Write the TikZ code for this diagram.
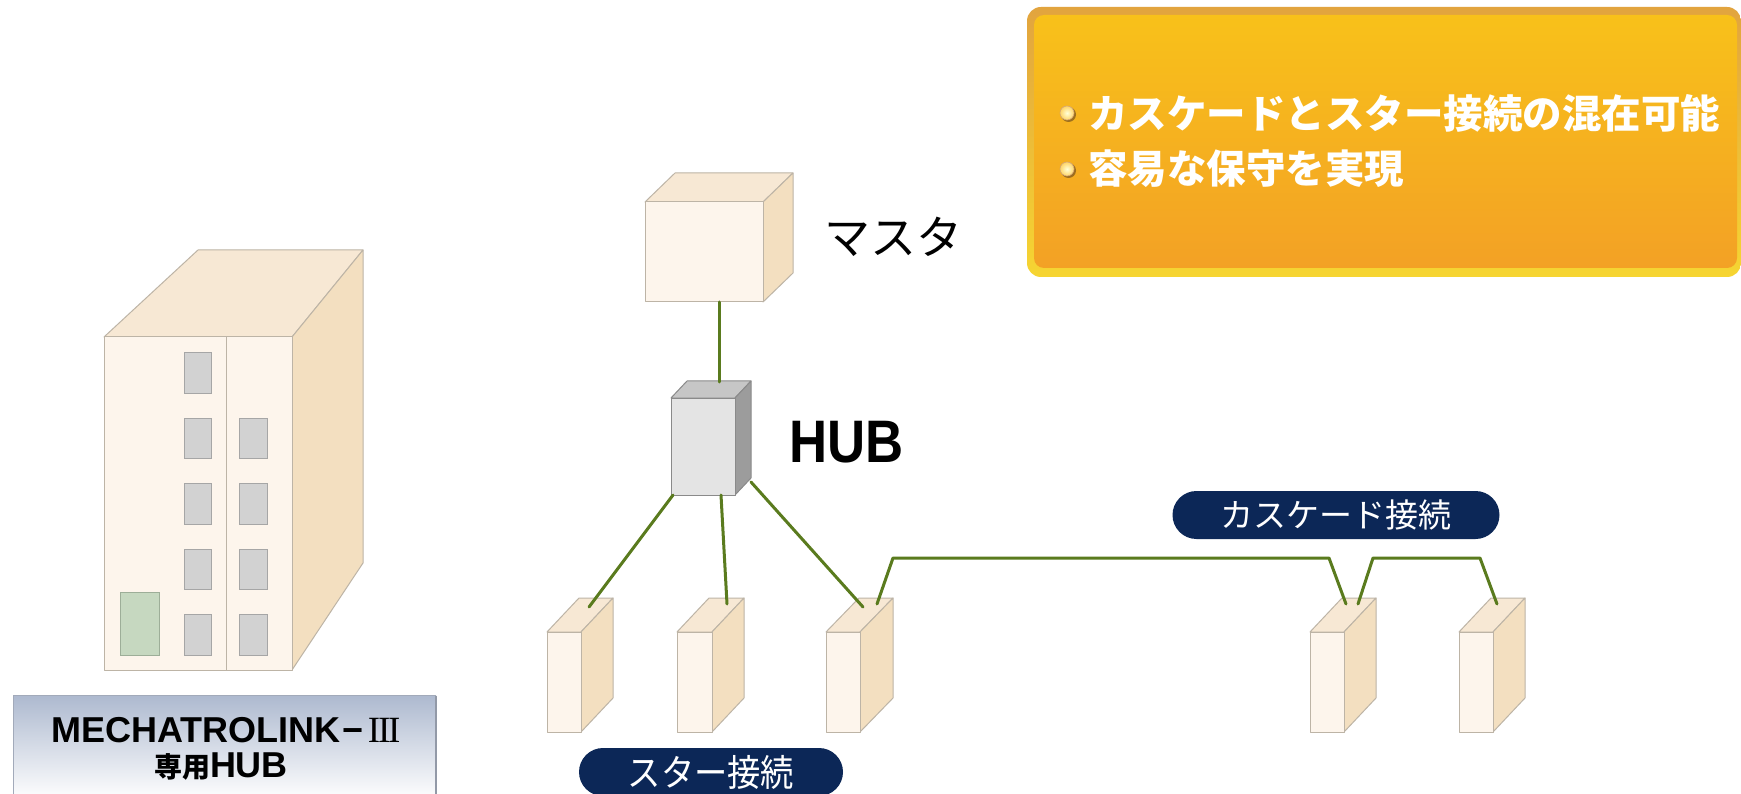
\documentclass[tikz,border=0pt]{standalone}
\usepackage{graphicx}
\usepackage{fontspec}
\setmainfont{Liberation Sans}
\newfontfamily\jpfont{Noto Sans CJK JP}
\newfontfamily\jpheavy{Noto Sans CJK JP}[UprightFont=* Black]
\newfontfamily\numeralfont{Liberation Serif}

\definecolor{devfront}{HTML}{FDF5EC}
\definecolor{devtop}{HTML}{F7E8D4}
\definecolor{devside}{HTML}{F3DFC0}
\definecolor{devedge}{HTML}{BDB4A6}
\definecolor{hubfront}{HTML}{E4E4E4}
\definecolor{hubtop}{HTML}{C6C6C6}
\definecolor{hubside}{HTML}{9C9C9C}
\definecolor{hubedge}{HTML}{8A8A8A}
\definecolor{portgray}{HTML}{D2D2D2}
\definecolor{portedge}{HTML}{A6A6A6}
\definecolor{ledgreen}{HTML}{C6D8C0}
\definecolor{ledge}{HTML}{9DAE98}
\definecolor{cablecol}{HTML}{5A7B1E}
\definecolor{navy}{HTML}{0C2757}
\definecolor{ringtop}{HTML}{E2A43E}
\definecolor{ringbot}{HTML}{F6D532}
\definecolor{paneltop}{HTML}{F8C11A}
\definecolor{panelbot}{HTML}{F3A125}
\definecolor{labeltop}{HTML}{ADB9CF}
\definecolor{labeledge}{HTML}{A2AABA}

\tikzset{
  faceline/.style={draw=devedge, line width=1pt, line join=round},
  hubline/.style={draw=hubedge, line width=1pt, line join=round},
  cable/.style={draw=cablecol, line width=3pt, line cap=round, line join=round},
  pill/.style={fill=navy, rounded corners=24pt, text=white, inner sep=0pt},
  port/.style={fill=portgray, draw=portedge, line width=1pt},
  feature/.style={anchor=base west, inner sep=0pt, text=white,
    font=\jpheavy\fontsize{39.5}{40}\selectfont},
}

% box in oblique view: #1 name, #2 x, #3 y (front top-left), #4 width, #5 height,
% #6 depth dx, #7 depth rise, #8 colour prefix (dev / hub), #9 edge style
\newcommand{\cuboid}[9]{%
  \filldraw[#9, fill=#8top] (#2,#3) -- ({#2+#6},{#3-#7}) -- ({#2+#4+#6},{#3-#7}) -- ({#2+#4},#3) -- cycle;
  \filldraw[#9, fill=#8side] ({#2+#4},#3) -- ({#2+#4+#6},{#3-#7}) -- ({#2+#4+#6},{#3-#7+#5}) -- ({#2+#4},{#3+#5}) -- cycle;
  \filldraw[#9, fill=#8front] (#2,#3) rectangle ({#2+#4},{#3+#5});
  \coordinate (#1) at ({#2+#4/2},{#3+#5/2});
}

\begin{document}
\begin{tikzpicture}[x=1pt,y=-1pt]
\useasboundingbox (0,0) rectangle (1741,794);
\fill[white] (0,0) rectangle (1741,794);

% ---------- dedicated HUB unit (left) ----------
\filldraw[faceline, fill=devtop] (104,337) -- (198,250) -- (363,250) -- (292,337) -- cycle;
\filldraw[faceline, fill=devside] (292,337) -- (363,250) -- (363,563) -- (292,670) -- cycle;
\filldraw[faceline, fill=devfront] (104,337) rectangle (292,670);
\draw[faceline] (226,337) -- (226,670);
\foreach \ya/\yb in {353/393,418/458,483/524,549/589,614/655}
  \filldraw[port] (184,\ya) rectangle (211,\yb);
\foreach \ya/\yb in {418/458,483/524,549/589,614/655}
  \filldraw[port] (239,\ya) rectangle (267,\yb);
\filldraw[fill=ledgreen, draw=ledge, line width=1pt] (120,592) rectangle (159,655);

% caption plate
\shade[top color=labeltop, bottom color=white] (13,695) rectangle (436,800);
\draw[labeledge, line width=1pt] (13,800) -- (13,695) -- (436,695);
\draw[labeledge!90!black, line width=2pt] (436,696) -- (436,800);
\node[anchor=base, inner sep=0pt] (plate1) at (226,742)
  {\fontsize{36}{36}\selectfont\bfseries MECHATROLINK\kern2pt−\kern4pt{\numeralfont\mdseries\fontsize{37}{37}\selectfont I\kern-2.2pt I\kern-2.2pt I}};
\node[anchor=base, inner sep=0pt] (plate2) at (221,777)
  {{\jpfont\bfseries\fontsize{28}{28}\selectfont 専用}{\fontsize{36}{36}\selectfont\bfseries HUB}};

% ---------- feature panel ----------
\shade[top color=ringtop, bottom color=ringbot, rounded corners=14pt] (1027,7) rectangle (1741,277);
\shade[top color=paneltop, bottom color=panelbot, rounded corners=10pt] (1034,15) rectangle (1737,268);
\foreach \yy [count=\i] in {113,169}{
  \fill[black!55!brown, opacity=0.55] (1068.5,\yy+1.5) circle (7.5pt);
  \shade[inner color=white!85!yellow, outer color=yellow!45!orange!60!white] (1067,\yy) circle (7pt);
  \draw[brown!70!white, line width=0.6pt] (1067,\yy) circle (7pt);
  \coordinate (bullet\i) at (1067,\yy);
}
\node[feature] (feat1) at (1088,129) {カスケードとスター接続の混在可能};
\node[feature] (feat2) at (1088,184) {容易な保守を実現};

% ---------- network devices ----------
\cuboid{master}{645}{202}{118}{100}{30}{29}{dev}{faceline}
\cuboid{hub}{671}{398}{64}{97}{16}{17}{hub}{hubline}
\cuboid{sl1}{547}{632}{34}{100}{32}{34}{dev}{faceline}
\cuboid{sl2}{677}{632}{35}{100}{32}{34}{dev}{faceline}
\cuboid{sl3}{826}{632}{34}{100}{33}{34}{dev}{faceline}
\cuboid{sl4}{1310}{632}{34}{100}{32}{34}{dev}{faceline}
\cuboid{sl5}{1459}{632}{34}{100}{32}{34}{dev}{faceline}

\node[anchor=base west, inner sep=0pt, font=\jpfont\fontsize{46}{46}\selectfont] (mastertxt) at (824,255) {マスタ};
\node[anchor=base west, inner sep=0pt] (hubtxt) at (789,462)
  {\scalebox{0.88}[1]{\fontsize{60}{60}\selectfont\bfseries HUB}};

% ports where cables meet the devices
\coordinate (master-out) at (719,302);
\coordinate (hub-in) at (719,382);
\coordinate (hub-o1) at (673,495);
\coordinate (hub-o2) at (721,495);
\coordinate (hub-o3) at (751,482);
\coordinate (sl1-in) at (589,607);
\coordinate (sl2-in) at (727,604);
\coordinate (sl3-in) at (863,607);
\coordinate (sl3-out) at (877,604);
\coordinate (sl4-in) at (1346,604);
\coordinate (sl4-out) at (1358,604);
\coordinate (sl5-in) at (1497,604);

% cables
\draw[cable] (master-out) -- (hub-in);
\draw[cable] (hub-o1) -- (sl1-in);
\draw[cable] (hub-o2) -- (sl2-in);
\draw[cable] (hub-o3) -- (sl3-in);
\draw[cable] (sl3-out) -- (893,558) -- (1329,558) -- (sl4-in);
\draw[cable] (sl4-out) -- (1373,558) -- (1480,558) -- (sl5-in);

% connection-type tags
\node[pill, minimum width=264pt, minimum height=48pt] (startag) at (711,772)
  {\scalebox{0.9}[1]{\jpfont\fontsize{37}{37}\selectfont スター接続}};
\node[pill, minimum width=327pt, minimum height=48pt] (cascadetag) at (1336,515)
  {\jpfont\fontsize{33}{33}\selectfont カスケード接続};
\end{tikzpicture}
\end{document}
